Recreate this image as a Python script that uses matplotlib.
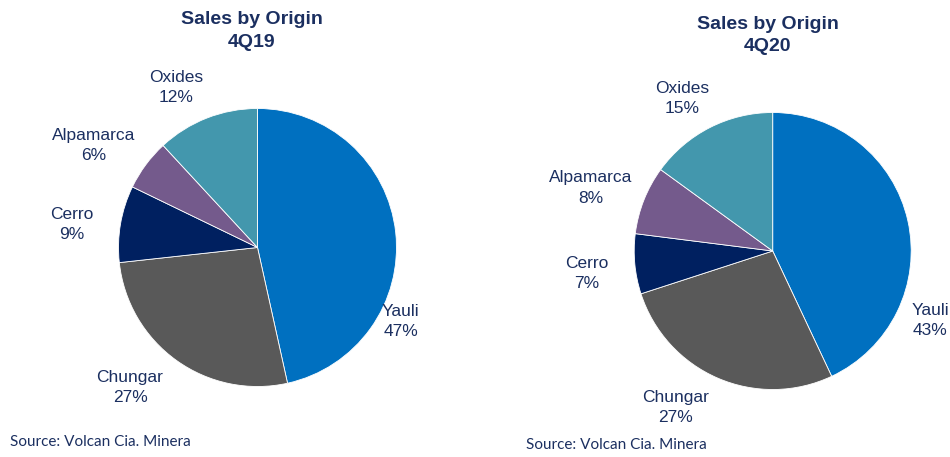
import numpy as np
import matplotlib
matplotlib.use("Agg")
import matplotlib.pyplot as plt

plt.rcParams['font.family'] = ['Liberation Sans', 'DejaVu Sans']

categories = ["Yauli", "Chungar", "Cerro", "Alpamarca", "Oxides"]
share_4q19 = [47, 27, 9, 6, 12]
share_4q20 = [43, 27, 7, 8, 15]
periods = ["4Q19", "4Q20"]

colors = ["#0070C0", "#595959", "#002060", "#745A8C", "#4397AD"]
navy = "#1B2F60"

# label placement (angle in degrees, distance in radii) per chart
label_pos = [
    [(-27.4, 1.16), (227.6, 1.36), (172.8, 1.345), (148.0, 1.39), (117.0, 1.29)],
    [(-23.7, 1.24), (238.0, 1.33), (186.8, 1.35), (160.9, 1.39), (120.7, 1.28)],
]

W, H = 950, 457
fig = plt.figure(figsize=(W / 100, H / 100), dpi=100)

# pie centre (px from left, px from top), radius px, title centre, source pos
layout = [
    dict(cx=257.5, cy=247.5, r=139, tx=252, ty=31, sx=10, sy=442),
    dict(cx=772.7, cy=251.0, r=138.5, tx=768, ty=35.5, sx=526, sy=445),
]

half = 210
for vals, period, lay, lpos in zip([share_4q19, share_4q20], periods, layout, label_pos):
    ax = fig.add_axes([(lay["cx"] - half) / W, (H - lay["cy"] - half) / H,
                       2 * half / W, 2 * half / H])
    ax.pie(vals, colors=colors, startangle=90, counterclock=False,
           wedgeprops=dict(edgecolor="white", linewidth=0.6))
    lim = half / lay["r"]
    ax.set_xlim(-lim, lim)
    ax.set_ylim(-lim, lim)
    ax.set_aspect("equal")
    ax.axis("off")
    for name, v, (ang, d) in zip(categories, vals, lpos):
        a = np.deg2rad(ang)
        ax.text(d * np.cos(a), d * np.sin(a), f"{name}\n{v}%", ha="center", va="center",
                fontsize=12.5, color=navy, linespacing=1.42)
    fig.text(lay["tx"] / W, 1 - lay["ty"] / H, f"Sales by Origin\n{period}", ha="center", va="center",
             fontsize=14, fontweight="bold", color=navy, linespacing=1.45)
    fig.text(lay["sx"] / W, 1 - lay["sy"] / H, "Source: Volcan Cia. Minera", ha="left", va="center",
             fontsize=11, color=navy, family=["Lato", "DejaVu Sans"])

fig.savefig("out.png", dpi=100)
